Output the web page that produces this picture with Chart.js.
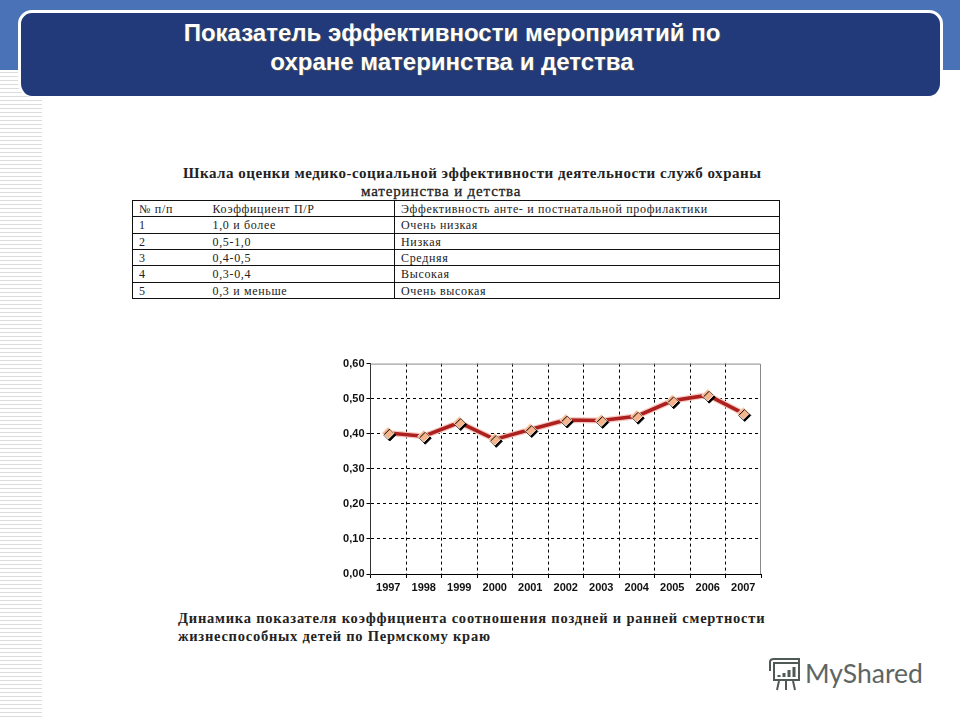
<!DOCTYPE html>
<html lang="ru">
<head>
<meta charset="utf-8">
<title>Показатель эффективности мероприятий</title>
<script src="https://cdn.jsdelivr.net/npm/chart.js@4"></script>
<style>
  html, body { margin: 0; padding: 0; background: #fff; }
  #page { position: relative; width: 960px; height: 720px; overflow: hidden; background: #fff; }
  #band { position: absolute; left: 0; top: 0; width: 960px; height: 70px; background: #4a72b6; }
  #stripes { position: absolute; left: 0; top: 70px; width: 42px; height: 650px;
    background: repeating-linear-gradient(to bottom, #fff 0, #fff 2px, #dcdcdc 2px, #dcdcdc 3px, #fff 3px, #fff 4px); }
  #banner { position: absolute; left: 18px; top: 10px; width: 919px; height: 83px; background: #22397a;
    border: 3px solid #fff; border-bottom-width: 1px; border-radius: 14px; }
  #heading { position: absolute; left: 18px; top: 18px; width: 868px; text-align: center; color: #fff;
    font: bold 24px/29px "Liberation Sans", sans-serif; text-shadow: 1px 1px 1px #555; white-space: nowrap; }
  .serif { position: absolute; font-family: "Liberation Serif", serif; font-weight: bold; color: #222; white-space: nowrap; }
  #tableTitle1 { left: 183px; top: 165px; font-size: 15px; letter-spacing: .52px; }
  #tableTitle2 { left: 361px; top: 183px; font-size: 15px; letter-spacing: .85px; font-weight: normal; -webkit-text-stroke: .3px #222; }
  #scale { position: absolute; left: 132px; top: 200px; width: 648px; height: 99px; border-collapse: collapse;
    table-layout: fixed; background: #fff; font: 12px/13px "Liberation Serif", serif; letter-spacing: .67px; color: #222; }
  #scale td { border: 1px solid #111; padding: 2px 0 0 6px; height: 13px; white-space: nowrap; overflow: hidden; }
  #scale td:nth-child(1) { border-right: none; }
  #scale td:nth-child(2) { border-left: none; padding-left: 6px; }
  #chartBox { position: absolute; left: 330px; top: 355px; width: 438px; height: 245px; }
  #caption1 { left: 178px; top: 610px; font-size: 14.5px; letter-spacing: .78px; }
  #caption2 { left: 178px; top: 628px; font-size: 14.5px; letter-spacing: .75px; }
  #logoText { position: absolute; left: 805px; top: 657px; font: 26.5px "Lato", sans-serif; color: #5d6663; }
  #logoIcon { position: absolute; left: 766px; top: 657px; }
</style>
</head>
<body>
<div id="page">
  <div id="band"></div>
  <div id="stripes"></div>
  <div id="banner"></div>
  <div id="heading">Показатель эффективности мероприятий по<br>охране материнства и детства</div>
  <div class="serif" id="tableTitle1">Шкала оценки медико-социальной эффективности деятельности служб охраны</div>
  <div class="serif" id="tableTitle2">материнства и детства</div>
  <table id="scale"><colgroup><col style="width:74px"><col style="width:188px"><col></colgroup><tbody id="scaleBody"></tbody></table>
  <div id="chartBox"><canvas id="dynamics" width="438" height="245"></canvas></div>
  <div class="serif" id="caption1">Динамика показателя коэффициента соотношения поздней и ранней смертности</div>
  <div class="serif" id="caption2">жизнеспособных детей по Пермскому краю</div>
  <svg id="logoIcon" width="36" height="38" viewBox="0 0 36 38" fill="none" stroke="#4f5a57" stroke-width="2">
    <path d="M4 14 V5 Q4 2 8 2 H33 V6 H8"/>
    <rect x="8" y="6" width="25" height="17"/>
    <path d="M13 24 L11 33 M20 24 V33 M27 24 L29 33"/>
    <path d="M13 20 V18 M18 20 V16 M23 20 V13 M28 20 V10" stroke-width="3"/>
  </svg>
  <div id="logoText">MyShared</div>
</div>

<script>
//table data
const rowNumbers = ["№ п/п", "1", "2", "3", "4", "5"];
const ratios = ["Коэффициент П/Р", "1,0 и более", "0,5-1,0", "0,4-0,5", "0,3-0,4", "0,3 и меньше"];
const grades = ["Эффективность анте- и постнатальной профилактики", "Очень низкая", "Низкая", "Средняя", "Высокая", "Очень высокая"];

//chart data
const years = ["1997", "1998", "1999", "2000", "2001", "2002", "2003", "2004", "2005", "2006", "2007"];
const ratioValues = [0.402, 0.393, 0.432, 0.384, 0.412, 0.439, 0.438, 0.45, 0.494, 0.51, 0.458];

//fill table
const scaleBody = document.getElementById("scaleBody");
rowNumbers.forEach(function (num, i) {
  let tr = document.createElement("tr");
  [num, ratios[i], grades[i]].forEach(function (text) {
    let td = document.createElement("td");
    td.textContent = text;
    tr.appendChild(td);
  });
  scaleBody.appendChild(tr);
});

//top and right edges of the plot are grey
const plotFrame = {
  id: "plotFrame",
  beforeDatasetsDraw(chart) {
    const { ctx, chartArea: a } = chart;
    ctx.save();
    ctx.strokeStyle = "#8a8a8a";
    ctx.lineWidth = 1;
    ctx.beginPath();
    ctx.moveTo(a.left, a.top + 0.5);
    ctx.lineTo(a.right - 0.5, a.top + 0.5);
    ctx.lineTo(a.right - 0.5, a.bottom);
    ctx.stroke();
    ctx.restore();
  },
};

//hard black shadow under the markers
const markerShadow = {
  id: "markerShadow",
  beforeDatasetDraw(chart, args) {
    if (args.index !== 2) return;
    const ctx = chart.ctx;
    ctx.save();
    ctx.shadowColor = "#000";
    ctx.shadowOffsetX = 1.5;
    ctx.shadowOffsetY = 2;
    ctx.shadowBlur = 0;
  },
  afterDatasetDraw(chart, args) {
    if (args.index === 2) chart.ctx.restore();
  },
};

const tickFont = { family: "'Liberation Sans'", size: 11, weight: "bold" };

new Chart(document.getElementById("dynamics").getContext("2d"), {
  type: "line",
  plugins: [plotFrame, markerShadow],
  data: {
    labels: years,
    datasets: [
      { data: ratioValues, borderColor: "#f7c9c0", borderWidth: 6, pointRadius: 0, tension: 0, order: 3 },
      { data: ratioValues, borderColor: "#ad2020", borderWidth: 3.5, pointRadius: 0, tension: 0, order: 2 },
      {
        data: ratioValues,
        showLine: false,
        pointStyle: "rectRot",
        pointRadius: 6,
        pointBackgroundColor: "#f6b48c",
        pointBorderColor: "#fbe3d2",
        pointBorderWidth: 1,
        order: 1,
      },
    ],
  },
  options: {
    responsive: false,
    animation: false,
    layout: { padding: { top: 8, right: 0, left: 0, bottom: 0 } },
    plugins: { legend: { display: false }, tooltip: { enabled: false } },
    scales: {
      x: {
        offset: true,
        afterFit(scale) { scale.height = 26; },
        grid: {
          //the line after the last tick is part of the grey frame
          color: (c) => (c.tick ? "#000" : "transparent"),
          lineWidth: 1,
          tickLength: 4,
          tickColor: "#000",
          offset: true,
        },
        border: { color: "#000", dash: [3, 3] },
        ticks: { color: "#111", font: tickFont, padding: 3, maxRotation: 0, autoSkip: false },
      },
      y: {
        min: 0,
        max: 0.6,
        afterFit(scale) { scale.width = 40.5; },
        grid: {
          color: (c) => (c.tick && c.tick.value >= 0.6 ? "transparent" : "#000"),
          lineWidth: 1,
          tickLength: 4,
          tickColor: "#000",
        },
        border: { color: "#333", dash: [3, 3] },
        ticks: {
          stepSize: 0.1,
          color: "#111",
          font: tickFont,
          padding: 2,
          callback: function (value) {
            return value.toFixed(2).replace(".", ",");
          },
        },
      },
    },
  },
});
</script>
</body>
</html>
